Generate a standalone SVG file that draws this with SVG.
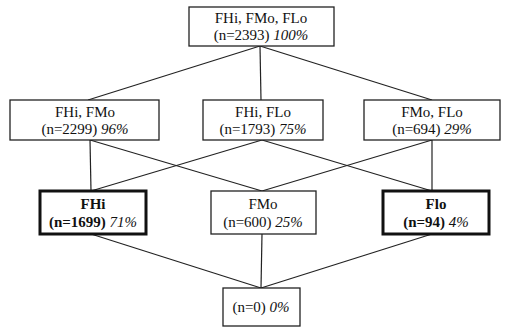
<svg xmlns="http://www.w3.org/2000/svg" width="507" height="329" viewBox="0 0 507 329">
<style>
.box{fill:#fff;stroke:#222;stroke-width:1.3}
.bold{fill:#fff;stroke:#111;stroke-width:3}
.t{font-family:"Liberation Serif","Times New Roman",serif;font-size:15px;fill:#111;text-anchor:middle}
.b{font-weight:bold}
.i{font-style:italic;font-weight:normal}
.ln{stroke:#222;stroke-width:1.2;fill:none}
</style>
<rect width="507" height="329" fill="#fff"/>
<g id="connectors" class="ln">
<line x1="260" y1="46" x2="88" y2="100"/>
<line x1="260" y1="46" x2="261" y2="100"/>
<line x1="260" y1="46" x2="432" y2="100"/>
<line x1="90" y1="140" x2="91" y2="191"/>
<line x1="90" y1="140" x2="262" y2="191"/>
<line x1="262" y1="140" x2="91" y2="191"/>
<line x1="262" y1="140" x2="432" y2="191"/>
<line x1="432" y1="140" x2="262" y2="191"/>
<line x1="432" y1="140" x2="432" y2="191"/>
<line x1="91" y1="234" x2="261" y2="288"/>
<line x1="262" y1="234" x2="261" y2="288"/>
<line x1="432" y1="234" x2="261" y2="288"/>
</g>
<g id="n_all">
<rect class="box" x="189" y="7" width="145" height="39"/>
<text class="t" x="261" y="23">FHi, FMo, FLo</text>
<text class="t" x="261" y="40">(n=2393) <tspan class="i">100%</tspan></text>
</g>
<g id="n_fhi_fmo">
<rect class="box" x="10" y="100" width="149" height="40"/>
<text class="t" x="85" y="117">FHi, FMo</text>
<text class="t" x="85" y="134">(n=2299) <tspan class="i">96%</tspan></text>
</g>
<g id="n_fhi_flo">
<rect class="box" x="203" y="100" width="120" height="40"/>
<text class="t" x="263" y="117">FHi, FLo</text>
<text class="t" x="263" y="134">(n=1793) <tspan class="i">75%</tspan></text>
</g>
<g id="n_fmo_flo">
<rect class="box" x="364" y="100" width="136" height="40"/>
<text class="t" x="432" y="117">FMo, FLo</text>
<text class="t" x="432" y="134">(n=694) <tspan class="i">29%</tspan></text>
</g>
<g id="n_fhi">
<rect class="bold" x="40" y="191" width="106" height="43"/>
<text class="t b" x="93" y="209">FHi</text>
<text class="t b" x="93" y="227">(n=1699) <tspan class="i">71%</tspan></text>
</g>
<g id="n_fmo">
<rect class="box" x="211" y="191" width="105" height="43"/>
<text class="t" x="263" y="209">FMo</text>
<text class="t" x="263" y="227">(n=600) <tspan class="i">25%</tspan></text>
</g>
<g id="n_flo">
<rect class="bold" x="383" y="191" width="106" height="43"/>
<text class="t b" x="436" y="209">Flo</text>
<text class="t b" x="436" y="227">(n=94) <tspan class="i">4%</tspan></text>
</g>
<g id="n_none">
<rect class="box" x="223" y="288" width="77" height="38"/>
<text class="t" x="261" y="312">(n=0) <tspan class="i">0%</tspan></text>
</g>
</svg>
